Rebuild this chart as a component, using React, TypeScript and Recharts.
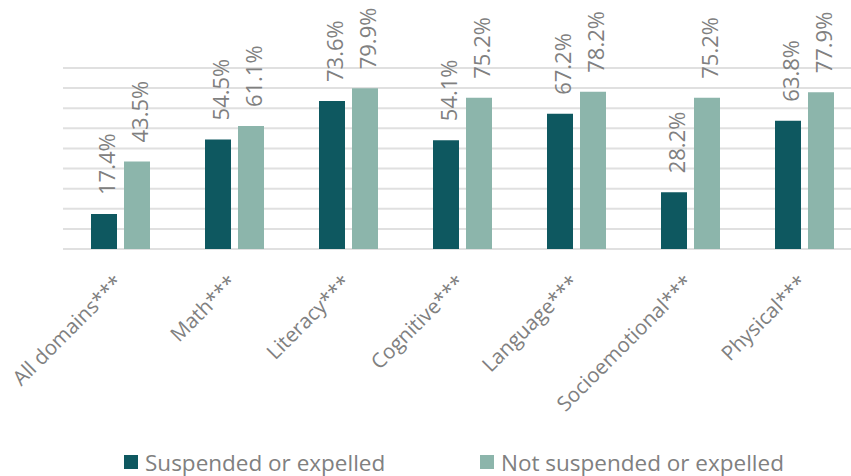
import React from 'react'
import { BarChart, Bar, XAxis, YAxis, CartesianGrid, Legend, LabelList } from 'recharts'

const categories = ['All domains***', 'Math***', 'Literacy***', 'Cognitive***', 'Language***', 'Socioemotional***', 'Physical***']
const suspended = [17.4, 54.5, 73.6, 54.1, 67.2, 28.2, 63.8]
const notSuspended = [43.5, 61.1, 79.9, 75.2, 78.2, 75.2, 77.9]
const yTicks = [0, 10, 20, 30, 40, 50, 60, 70, 80, 90]

const DARK = '#0e5860'
const LIGHT = '#8cb5ab'
const TEXT = '#808080'
const FONT = '"Open Sans", sans-serif'

const data = categories.map((name, i) => ({
  name,
  suspended: suspended[i],
  notSuspended: notSuspended[i],
}))

function ValueLabel(props: any) {
  const { x, y, width, value } = props
  const cx = x + width / 2 + 2
  const cy = y - 19
  return (
    <text
      x={cx}
      y={cy}
      transform={`rotate(-90, ${cx}, ${cy})`}
      textAnchor="start"
      dominantBaseline="central"
      fill={TEXT}
      fontSize={22}
      fontFamily={FONT}
    >
      {`${value.toFixed(1)}%`}
    </text>
  )
}

function CategoryTick(props: any) {
  const { x, y, payload } = props
  const tx = x + 4
  const ty = y + 35
  return (
    <text
      x={tx}
      y={ty}
      transform={`rotate(-45, ${tx}, ${ty})`}
      textAnchor="end"
      fill={TEXT}
      fontSize={20.5}
      fontFamily={FONT}
    >
      {payload.value}
    </text>
  )
}

function LegendContent() {
  const items = [
    { label: 'Suspended or expelled', color: DARK, w: 356 },
    { label: 'Not suspended or expelled', color: LIGHT, w: 320 },
  ]
  return (
    <div style={{ display: 'flex', alignItems: 'center', paddingLeft: 124, height: 28 }}>
      {items.map((it) => (
        <div key={it.label} style={{ display: 'flex', alignItems: 'center', width: it.w }}>
          <div style={{ width: 14, height: 14, background: it.color, marginRight: 7 }} />
          <span style={{ color: TEXT, fontSize: 22.5, fontFamily: FONT, whiteSpace: 'nowrap' }}>{it.label}</span>
        </div>
      ))}
    </div>
  )
}

export default function App() {
  return (
    <div style={{ position: 'absolute', left: 0, top: 0, width: 851, height: 476, overflow: 'hidden', background: '#fff' }}>
      <BarChart
        width={861}
        height={476}
        data={data}
        margin={{ top: 68, right: 0, bottom: 0, left: 63 }}
        barCategoryGap={27.5}
        barGap={7}
      >
        <CartesianGrid vertical={false} stroke="#e0e0e0" strokeWidth={2} />
        <YAxis hide domain={[0, 90]} ticks={yTicks} interval={0} />
        <XAxis
          dataKey="name"
          height={227}
          axisLine={false}
          tickLine={false}
          tickSize={0}
          tickMargin={0}
          interval={0}
          tick={<CategoryTick />}
        />
        <Legend
          layout="horizontal"
          verticalAlign="middle"
          content={<LegendContent />}
          wrapperStyle={{ top: 448, left: 0, width: 861 }}
        />
        <Bar dataKey="suspended" name="Suspended or expelled" fill={DARK} barSize={26} isAnimationActive={false}>
          <LabelList dataKey="suspended" content={<ValueLabel />} />
        </Bar>
        <Bar dataKey="notSuspended" name="Not suspended or expelled" fill={LIGHT} barSize={26} isAnimationActive={false}>
          <LabelList dataKey="notSuspended" content={<ValueLabel />} />
        </Bar>
      </BarChart>
    </div>
  )
}
